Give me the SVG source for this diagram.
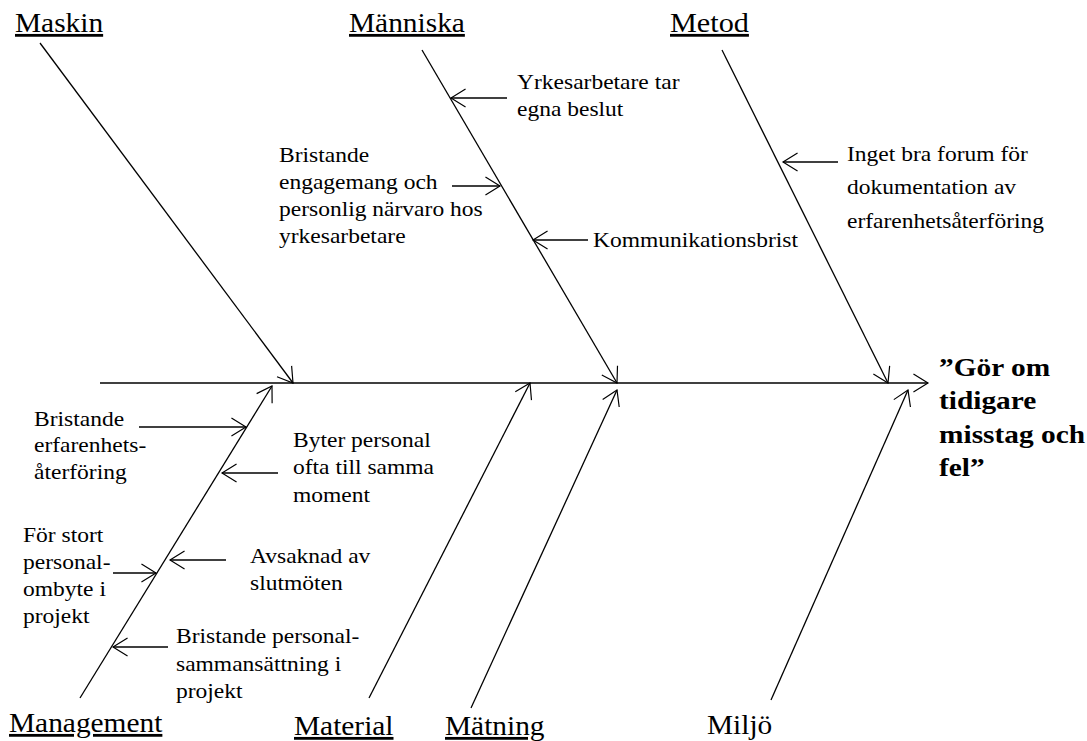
<svg xmlns="http://www.w3.org/2000/svg" width="1087" height="741" viewBox="0 0 1087 741">
  <style>
    text { font-family: "Liberation Serif", "Times New Roman", serif; fill: #000; }
    .cat { font-size: 28px; text-decoration: underline; }
    .cat-plain { font-size: 28px; }
    .cause { font-size: 21px; }
    .effect { font-size: 26px; font-weight: bold; }
    .bone { stroke: #000; stroke-width: 1.3; fill: none; marker-end: url(#arrow); }
  </style>
  <defs>
    <marker id="arrow" markerUnits="userSpaceOnUse" orient="auto" overflow="visible"
            markerWidth="20" markerHeight="24" viewBox="-20 -12 22 24" refX="0" refY="0">
      <path d="M-16,-10 L0,0 L-16,10" fill="none" stroke="#000" stroke-width="1.3"/>
    </marker>
  </defs>

  <rect width="1087" height="741" fill="#fff"/>

  <!-- spine, main bones and cause arrows -->
  <g id="connectors">
    <line class="bone" x1="100" y1="383" x2="928" y2="383"/>
    <line class="bone" x1="40" y1="43" x2="293" y2="383"/>
    <line class="bone" x1="422" y1="50" x2="617" y2="383"/>
    <line class="bone" x1="722" y1="50" x2="888" y2="383"/>
    <line class="bone" x1="80" y1="698" x2="272" y2="386"/>
    <line class="bone" x1="369" y1="698" x2="530" y2="383"/>
    <line class="bone" x1="471" y1="708" x2="617" y2="390"/>
    <line class="bone" x1="771" y1="700" x2="908" y2="390"/>

    <line class="bone" x1="507" y1="98" x2="451" y2="98"/>
    <line class="bone" x1="452" y1="186" x2="500" y2="186"/>
    <line class="bone" x1="588" y1="240" x2="533" y2="240"/>
    <line class="bone" x1="838" y1="162" x2="783" y2="162"/>
    <line class="bone" x1="139" y1="427" x2="246" y2="427"/>
    <line class="bone" x1="278" y1="473" x2="222" y2="473"/>
    <line class="bone" x1="113" y1="573" x2="156" y2="573"/>
    <line class="bone" x1="226" y1="560" x2="170" y2="560"/>
    <line class="bone" x1="168" y1="647" x2="113" y2="647"/>
  </g>

  <!-- category labels -->
  <g id="maskin"><text class="cat" transform="translate(15,32) scale(1.05,1)">Maskin</text></g>
  <g id="manniska"><text class="cat" transform="translate(349,32) scale(1.05,1)">Människa</text></g>
  <g id="metod"><text class="cat" transform="translate(670,32) scale(1.08,1)">Metod</text></g>
  <g id="management"><text class="cat" transform="translate(9,732) scale(1.05,1)">Management</text></g>
  <g id="material"><text class="cat" transform="translate(294,735) scale(1.05,1)">Material</text></g>
  <g id="matning"><text class="cat" transform="translate(445,735) scale(1.05,1)">Mätning</text></g>
  <g id="miljo"><text class="cat-plain" transform="translate(707,734) scale(1.05,1)">Miljö</text></g>

  <!-- effect -->
  <g id="effect">
    <text class="effect" transform="translate(939,376) scale(1.13,1)">
      <tspan x="0" y="0">”Gör om</tspan>
      <tspan x="0" y="33.5">tidigare</tspan>
      <tspan x="0" y="67">misstag och</tspan>
      <tspan x="0" y="100.5">fel”</tspan>
    </text>
  </g>

  <!-- causes -->
  <g id="cause-egna-beslut">
    <text class="cause" transform="translate(517,89) scale(1.12,1)">
      <tspan x="0" y="0">Yrkesarbetare tar</tspan>
      <tspan x="0" y="27">egna beslut</tspan>
    </text>
  </g>
  <g id="cause-engagemang">
    <text class="cause" transform="translate(279,162) scale(1.12,1)">
      <tspan x="0" y="0">Bristande</tspan>
      <tspan x="0" y="27">engagemang och</tspan>
      <tspan x="0" y="54">personlig närvaro hos</tspan>
      <tspan x="0" y="81">yrkesarbetare</tspan>
    </text>
  </g>
  <g id="cause-kommunikation">
    <text class="cause" transform="translate(593,247) scale(1.12,1)">Kommunikationsbrist</text>
  </g>
  <g id="cause-forum">
    <text class="cause" transform="translate(847,161) scale(1.12,1)">
      <tspan x="0" y="0">Inget bra forum för</tspan>
      <tspan x="0" y="33.5">dokumentation av</tspan>
      <tspan x="0" y="67">erfarenhetsåterföring</tspan>
    </text>
  </g>
  <g id="cause-erfarenhet">
    <text class="cause" transform="translate(34,426) scale(1.12,1)">
      <tspan x="0" y="0">Bristande</tspan>
      <tspan x="0" y="26.5">erfarenhets-</tspan>
      <tspan x="0" y="53">återföring</tspan>
    </text>
  </g>
  <g id="cause-byter-personal">
    <text class="cause" transform="translate(293,447) scale(1.12,1)">
      <tspan x="0" y="0">Byter personal</tspan>
      <tspan x="0" y="27.5">ofta till samma</tspan>
      <tspan x="0" y="55">moment</tspan>
    </text>
  </g>
  <g id="cause-personalombyte">
    <text class="cause" transform="translate(23,542) scale(1.12,1)">
      <tspan x="0" y="0">För stort</tspan>
      <tspan x="0" y="27">personal-</tspan>
      <tspan x="0" y="54.5">ombyte i</tspan>
      <tspan x="0" y="81.5">projekt</tspan>
    </text>
  </g>
  <g id="cause-slutmoten">
    <text class="cause" transform="translate(250,563) scale(1.12,1)">
      <tspan x="0" y="0">Avsaknad av</tspan>
      <tspan x="0" y="27.5">slutmöten</tspan>
    </text>
  </g>
  <g id="cause-sammansattning">
    <text class="cause" transform="translate(176,643) scale(1.12,1)">
      <tspan x="0" y="0">Bristande personal-</tspan>
      <tspan x="0" y="28">sammansättning i</tspan>
      <tspan x="0" y="55">projekt</tspan>
    </text>
  </g>
</svg>
